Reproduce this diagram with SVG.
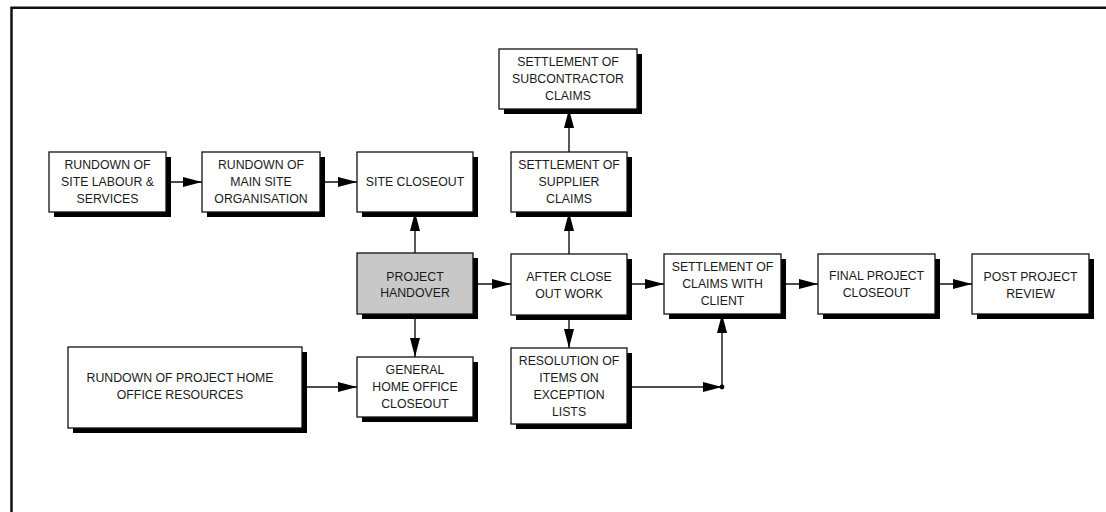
<svg xmlns="http://www.w3.org/2000/svg" width="1106" height="512" viewBox="0 0 1106 512">
  <style>
    .shadow { fill: #000; }
    .box { fill: #fff; stroke: #111; stroke-width: 1.3; }
    .box.grey { fill: #c8c8c8; }
    .lbl { font-family: "Liberation Sans", Arial, sans-serif; font-size: 12.3px; fill: #1a1a1a; text-anchor: middle; }
    .wire { fill: none; stroke: #111; stroke-width: 1.4; }
  </style>
  <defs>
    <marker id="arrow" markerUnits="userSpaceOnUse" markerWidth="19" markerHeight="10" refX="19" refY="5" orient="auto">
      <path d="M0,0 L19,5 L0,10 z" fill="#000"/>
    </marker>
  </defs>

  <rect width="1106" height="512" fill="#fff"/>
  <!-- frame: only the top and left edges fall inside the page -->
  <path d="M11.5,512 V7.7 H1106" fill="none" stroke="#111" stroke-width="2.5"/>

  <!-- connectors -->
  <g id="connectors" class="wires">
    <path class="wire" d="M166,182 H202" marker-end="url(#arrow)"/>
    <path class="wire" d="M320,182 H357" marker-end="url(#arrow)"/>
    <path class="wire" d="M415,253 V212" marker-end="url(#arrow)"/>
    <path class="wire" d="M473,284 H511" marker-end="url(#arrow)"/>
    <path class="wire" d="M569,254 V212" marker-end="url(#arrow)"/>
    <path class="wire" d="M569,152 V109" marker-end="url(#arrow)"/>
    <path class="wire" d="M415,314 V357" marker-end="url(#arrow)"/>
    <path class="wire" d="M302,387 H357" marker-end="url(#arrow)"/>
    <path class="wire" d="M569,315 V348" marker-end="url(#arrow)"/>
    <path class="wire" d="M627,284 H664" marker-end="url(#arrow)"/>
    <path class="wire" d="M627,387 H722" marker-end="url(#arrow)"/>
    <path class="wire" d="M722,387 V314" marker-end="url(#arrow)"/>
    <circle cx="722" cy="387" r="2.4" fill="#000"/>
    <path class="wire" d="M781,284 H818" marker-end="url(#arrow)"/>
    <path class="wire" d="M935,284 H972" marker-end="url(#arrow)"/>
  </g>

  <!-- nodes -->
  <g id="rundown-site-labour">
    <rect class="shadow" x="54" y="157" width="117" height="60"/>
    <rect class="box" x="49" y="152" width="117" height="60"/>
    <text class="lbl" x="107.5"><tspan x="107.5" y="169">RUNDOWN OF</tspan><tspan x="107.5" y="186">SITE LABOUR &amp;</tspan><tspan x="107.5" y="203">SERVICES</tspan></text>
  </g>

  <g id="rundown-main-site">
    <rect class="shadow" x="207" y="157" width="118" height="60"/>
    <rect class="box" x="202" y="152" width="118" height="60"/>
    <text class="lbl"><tspan x="261" y="169">RUNDOWN OF</tspan><tspan x="261" y="186">MAIN SITE</tspan><tspan x="261" y="203">ORGANISATION</tspan></text>
  </g>

  <g id="site-closeout">
    <rect class="shadow" x="362" y="157" width="116" height="60"/>
    <rect class="box" x="357" y="152" width="116" height="60"/>
    <text class="lbl" x="415" y="186">SITE CLOSEOUT</text>
  </g>

  <g id="subcontractor-claims">
    <rect class="shadow" x="504" y="54" width="138" height="60"/>
    <rect class="box" x="499" y="49" width="138" height="60"/>
    <text class="lbl"><tspan x="568" y="66">SETTLEMENT OF</tspan><tspan x="568" y="83">SUBCONTRACTOR</tspan><tspan x="568" y="100">CLAIMS</tspan></text>
  </g>

  <g id="supplier-claims">
    <rect class="shadow" x="516" y="157" width="116" height="60"/>
    <rect class="box" x="511" y="152" width="116" height="60"/>
    <text class="lbl"><tspan x="569" y="169">SETTLEMENT OF</tspan><tspan x="569" y="186">SUPPLIER</tspan><tspan x="569" y="203">CLAIMS</tspan></text>
  </g>

  <g id="project-handover">
    <rect class="shadow" x="362" y="258" width="116" height="61"/>
    <rect class="box grey" x="357" y="253" width="116" height="61"/>
    <text class="lbl"><tspan x="415" y="281">PROJECT</tspan><tspan x="415" y="297">HANDOVER</tspan></text>
  </g>

  <g id="after-closeout-work">
    <rect class="shadow" x="516" y="259" width="116" height="61"/>
    <rect class="box" x="511" y="254" width="116" height="61"/>
    <text class="lbl"><tspan x="569" y="281">AFTER CLOSE</tspan><tspan x="569" y="298">OUT WORK</tspan></text>
  </g>

  <g id="claims-with-client">
    <rect class="shadow" x="669" y="259" width="117" height="60"/>
    <rect class="box" x="664" y="254" width="117" height="60"/>
    <text class="lbl"><tspan x="722.5" y="271">SETTLEMENT OF</tspan><tspan x="722.5" y="288">CLAIMS WITH</tspan><tspan x="722.5" y="305">CLIENT</tspan></text>
  </g>

  <g id="final-project-closeout">
    <rect class="shadow" x="823" y="259" width="117" height="60"/>
    <rect class="box" x="818" y="254" width="117" height="60"/>
    <text class="lbl"><tspan x="876.5" y="280">FINAL PROJECT</tspan><tspan x="876.5" y="297">CLOSEOUT</tspan></text>
  </g>

  <g id="post-project-review">
    <rect class="shadow" x="977" y="259" width="117" height="60"/>
    <rect class="box" x="972" y="254" width="117" height="60"/>
    <text class="lbl"><tspan x="1030.5" y="281">POST PROJECT</tspan><tspan x="1030.5" y="298">REVIEW</tspan></text>
  </g>

  <g id="rundown-home-office">
    <rect class="shadow" x="73" y="352" width="234" height="81"/>
    <rect class="box" x="68" y="347" width="234" height="81"/>
    <text class="lbl"><tspan x="180" y="382">RUNDOWN OF PROJECT HOME</tspan><tspan x="180" y="399">OFFICE RESOURCES</tspan></text>
  </g>

  <g id="home-office-closeout">
    <rect class="shadow" x="362" y="362" width="116" height="60"/>
    <rect class="box" x="357" y="357" width="116" height="60"/>
    <text class="lbl"><tspan x="415" y="374">GENERAL</tspan><tspan x="415" y="391">HOME OFFICE</tspan><tspan x="415" y="408">CLOSEOUT</tspan></text>
  </g>

  <g id="exception-lists">
    <rect class="shadow" x="516" y="353" width="116" height="76"/>
    <rect class="box" x="511" y="348" width="116" height="76"/>
    <text class="lbl"><tspan x="569" y="365">RESOLUTION OF</tspan><tspan x="569" y="382">ITEMS ON</tspan><tspan x="569" y="399">EXCEPTION</tspan><tspan x="569" y="416">LISTS</tspan></text>
  </g>
</svg>
